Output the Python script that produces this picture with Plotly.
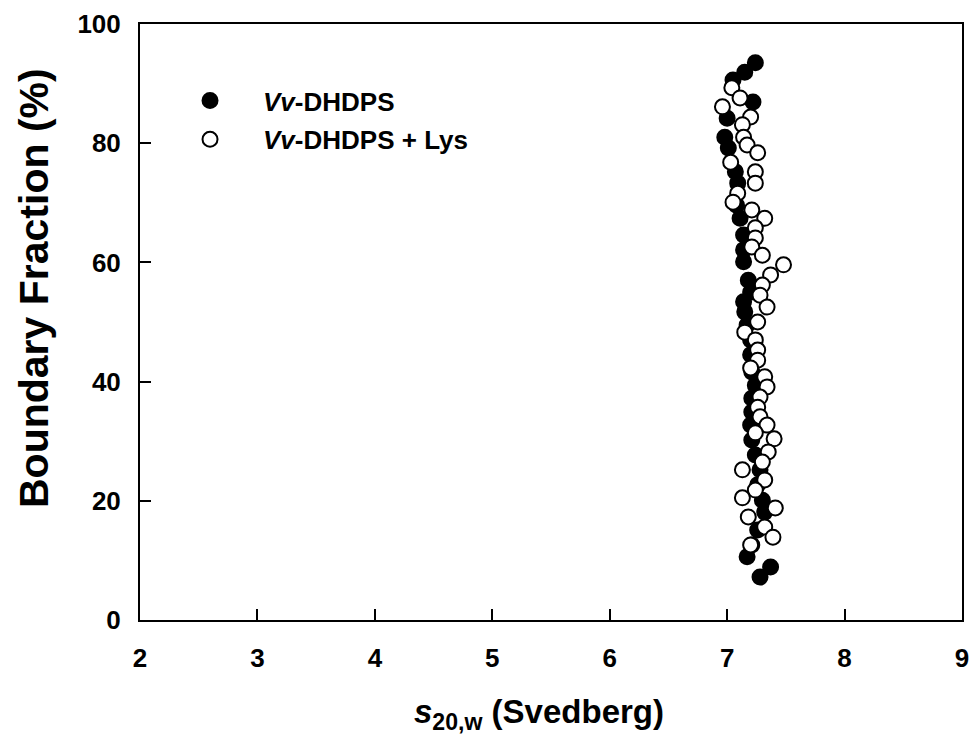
import plotly.graph_objects as go

# Vv-DHDPS (filled)
s_apo = [7.24, 7.15, 7.05, 7.22, 7.00, 6.98, 7.01, 7.07, 7.09, 7.08, 7.11, 7.14, 7.14, 7.14,
         7.18, 7.20, 7.14, 7.15, 7.17, 7.20, 7.20, 7.21, 7.24, 7.21, 7.21, 7.20, 7.21, 7.24,
         7.28, 7.26, 7.30, 7.32, 7.26, 7.21, 7.17, 7.37, 7.28]
f_apo = [93.5, 91.9, 90.6, 86.9, 84.2, 81.0, 79.2, 75.2, 73.3, 69.6, 67.4, 64.6, 62.1, 60.1,
         57.0, 55.0, 53.4, 51.7, 49.5, 47.0, 44.5, 41.6, 39.4, 37.2, 34.9, 32.7, 30.2, 27.7,
         25.2, 22.7, 20.1, 18.1, 15.1, 12.6, 10.6, 8.9, 7.2]

# Vv-DHDPS + Lys (open)
s_lys = [7.04, 7.11, 6.96, 7.20, 7.13, 7.14, 7.17, 7.26, 7.03, 7.24, 7.24, 7.09, 7.05, 7.21,
         7.32, 7.24, 7.24, 7.21, 7.30, 7.48, 7.37, 7.30, 7.28, 7.34, 7.26, 7.15, 7.24, 7.26,
         7.26, 7.20, 7.32, 7.34, 7.28, 7.26, 7.28, 7.34, 7.24, 7.40, 7.35, 7.30, 7.13, 7.32,
         7.24, 7.13, 7.41, 7.18, 7.32, 7.39, 7.20]
f_lys = [89.3, 87.6, 86.1, 84.4, 83.1, 81.0, 79.7, 78.4, 76.8, 75.2, 73.3, 71.6, 70.1, 68.8,
         67.4, 65.8, 64.1, 62.6, 61.2, 59.6, 57.9, 56.2, 54.5, 52.5, 50.0, 48.3, 47.0, 45.3,
         43.6, 42.3, 40.8, 39.1, 37.4, 35.7, 34.1, 32.7, 31.4, 30.4, 28.2, 26.5, 25.2, 23.5,
         21.8, 20.5, 18.8, 17.3, 15.6, 13.9, 12.6]

x_ticks = [2, 3, 4, 5, 6, 7, 8, 9]
y_ticks = [0, 20, 40, 60, 80, 100]

FONT = "Liberation Sans, Arial, sans-serif"

fig = go.Figure()
fig.add_trace(go.Scatter(
    x=s_apo, y=f_apo, mode="markers", name="<b><i>Vv</i>-DHDPS</b>", legendgroup="a",
    marker=dict(symbol="circle", size=15, color="black", line=dict(color="black", width=2)),
))
fig.add_trace(go.Scatter(
    x=s_lys, y=f_lys, mode="markers", name="<b><i>Vv</i>-DHDPS + Lys</b>", legendgroup="b",
    marker=dict(symbol="circle", size=15, color="white", line=dict(color="black", width=2)),
))

axis_common = dict(
    showgrid=False, zeroline=False, showline=True, linecolor="black", linewidth=2,
    mirror=True, ticks="inside", ticklen=11, tickwidth=2, tickcolor="black",
    tickfont=dict(family=FONT, size=26, color="black", weight="bold"),
    automargin=False,
)

fig.update_layout(
    width=978, height=742,
    margin=dict(l=132, r=24, t=16, b=130),
    paper_bgcolor="white", plot_bgcolor="white",
    font=dict(family=FONT, color="black"),
    xaxis=dict(range=[2, 9], tickvals=x_ticks, ticktext=[str(v) for v in x_ticks],
               ticklabelstandoff=14, **axis_common),
    yaxis=dict(range=[0, 100], tickvals=y_ticks, ticktext=[str(v) for v in y_ticks],
               ticklabelstandoff=12, **axis_common),
    annotations=[
        dict(text="<b>Boundary Fraction (%)</b>", textangle=-90, showarrow=False,
             xref="paper", yref="paper", x=-0.129, y=0.557, xanchor="center", yanchor="middle",
             font=dict(family=FONT, size=41, color="black")),
        dict(text="<b><i>s</i><sub>20,w</sub> (Svedberg)</b>", showarrow=False,
             xref="paper", yref="paper", x=0.485, y=-0.157, xanchor="center", yanchor="middle",
             font=dict(family=FONT, size=33, color="black")),
    ],
    legend=dict(x=0.0207, y=0.911, xanchor="left", yanchor="top", bgcolor="rgba(0,0,0,0)",
                font=dict(family=FONT, size=26, color="black"), traceorder="grouped",
                tracegroupgap=2, itemwidth=96),
    showlegend=True,
)

fig.write_html("out.html")
